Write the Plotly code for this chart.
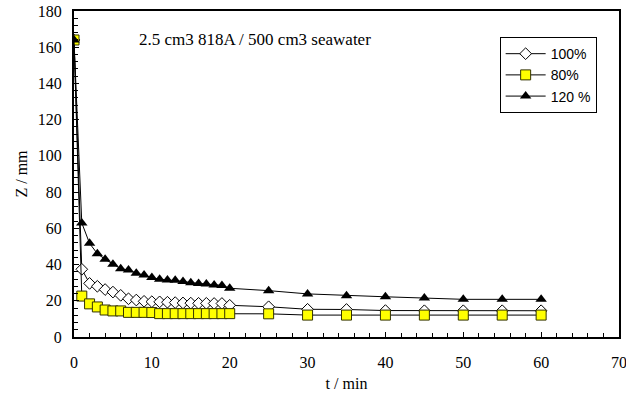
import plotly.graph_objects as go

# Sampling times (min)
t = [0, 1, 2, 3, 4, 5, 6, 7, 8, 9, 10, 11, 12, 13, 14, 15, 16, 17, 18, 19, 20,
     25, 30, 35, 40, 45, 50, 55, 60]

# Sediment interface height Z (mm) for each dosage
z_100 = [164, 37.4, 29.6, 28.0, 26.2, 24.8, 23.0, 21.1, 20.4, 19.7, 19.5, 19.4,
         19.2, 19.0, 18.8, 18.7, 18.6, 18.6, 18.5, 18.5, 17.5,
         16.7, 15.3, 15.2, 14.6, 14.5, 14.5, 14.5, 14.5]
z_80 = [164, 22.6, 18.3, 16.6, 14.9, 14.4, 14.4, 13.6, 13.6, 13.6, 13.5, 12.9,
        12.9, 12.9, 12.9, 12.9, 12.9, 12.9, 12.9, 12.9, 12.9,
        12.8, 12.1, 12.1, 12.1, 12.1, 12.1, 12.1, 12.1]
z_120 = [164, 63.0, 51.7, 46.0, 42.9, 40.1, 37.7, 37.0, 35.2, 34.2, 32.8, 31.9,
         31.5, 31.3, 30.7, 30.0, 29.6, 29.3, 28.7, 28.5, 26.9,
         25.6, 23.8, 22.8, 22.2, 21.5, 20.8, 20.8, 20.8]

series_names = ["100%", "80%", "120 %"]

serif = "Liberation Serif, Times New Roman, serif"
sans = "Liberation Sans, Arial, sans-serif"

fig = go.Figure()
fig.add_trace(go.Scatter(
    x=t, y=z_100, name=series_names[0], mode="lines+markers",
    line=dict(color="black", width=1),
    marker=dict(symbol="diamond", size=9, color="white",
                line=dict(color="black", width=1)),
))
fig.add_trace(go.Scatter(
    x=t, y=z_80, name=series_names[1], mode="lines+markers",
    line=dict(color="black", width=1),
    marker=dict(symbol="square", size=10, color="#FFFF00",
                line=dict(color="#333300", width=1)),
))
fig.add_trace(go.Scatter(
    x=t, y=z_120, name=series_names[2], mode="lines+markers",
    line=dict(color="black", width=1),
    marker=dict(symbol="triangle-up", size=10, color="black",
                line=dict(color="black", width=0)),
))

fig.add_annotation(
    x=8.1, y=164, xref="x", yref="y", xanchor="left", yanchor="middle",
    text="2.5 cm3 818A / 500 cm3 seawater", showarrow=False,
    font=dict(family=serif, size=17, color="black"),
)

fig.update_layout(
    width=626, height=394,
    margin=dict(l=74, r=7, t=11, b=57, autoexpand=False),
    paper_bgcolor="white", plot_bgcolor="white",
    font=dict(family=serif, size=16, color="black"),
    legend=dict(
        x=0.781, y=0.92, xanchor="left", yanchor="top",
        bgcolor="white", bordercolor="black", borderwidth=1,
        font=dict(family=sans, size=14, color="black"),
        tracegroupgap=0, itemwidth=40,
    ),
    showlegend=True,
)

fig.update_xaxes(
    range=[0, 70], tickvals=list(range(0, 71, 10)),
    showline=True, linecolor="black", linewidth=2, mirror=True,
    ticks="inside", ticklen=5, tickcolor="black", tickwidth=1,
    minor=dict(ticks="inside", ticklen=4, dtick=2, tickcolor="black", tickwidth=1),
    showgrid=False, zeroline=False, automargin=False,
    ticklabelstandoff=10, ticklabeloverflow="allow",
    title=dict(text="t / min", font=dict(family=serif, size=16), standoff=8),
    tickfont=dict(family=serif, size=16),
)
fig.update_yaxes(
    range=[0, 180], tickvals=list(range(0, 181, 20)),
    showline=True, linecolor="black", linewidth=2, mirror=True,
    ticks="inside", ticklen=5, tickcolor="black", tickwidth=1,
    minor=dict(ticks="inside", ticklen=4, dtick=4, tickcolor="black", tickwidth=1),
    showgrid=False, zeroline=False, automargin=False,
    ticklabelstandoff=7,
    title=dict(text="Z / mm", font=dict(family=serif, size=16), standoff=6),
    tickfont=dict(family=serif, size=16),
)

fig.write_html("out.html")
